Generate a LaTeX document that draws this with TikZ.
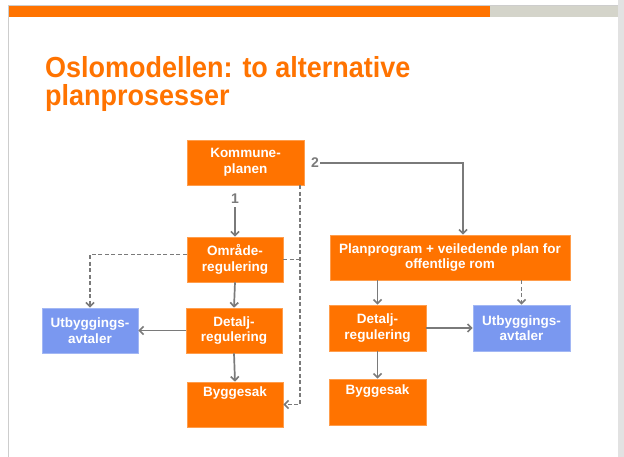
\documentclass[tikz,border=0pt]{standalone}
\usepackage{fontspec}
\setmainfont{Liberation Sans}
\newfontfamily\titlefont[FakeStretch=0.93]{Liberation Sans}
\usetikzlibrary{arrows.meta}
\definecolor{oslo}{RGB}{255,115,0}
\definecolor{avtale}{RGB}{122,152,240}
\definecolor{link}{RGB}{122,122,122}
\definecolor{barGray}{RGB}{212,212,202}
\definecolor{frameGray}{RGB}{205,205,205}
\definecolor{sideGray}{RGB}{226,226,226}

\begin{document}
\begin{tikzpicture}[x=1pt,y=-1pt,
  box/.style={fill=oslo, draw=oslo!70!white, line width=0.6pt, text=white,
    font=\bfseries\fontsize{13.5}{15.5}\selectfont, align=center, inner sep=0pt},
  bluebox/.style={box, fill=avtale, draw=avtale!70!white},
  topbox/.style={text depth=26pt, text height=10pt},
  flow/.style={draw=link, line width=1.7pt, -{Straight Barb[length=4pt,width=8pt]}},
  dflow/.style={flow, dash pattern=on 4pt off 2.5pt},
  dline/.style={draw=link, line width=1.7pt, dash pattern=on 4pt off 2.5pt},
  num/.style={text=link, font=\bfseries\fontsize{14}{16}\selectfont, inner sep=1pt}]

% page and slide frame
\useasboundingbox (0,0) rectangle (624,457);
\fill[white] (0,0) rectangle (624,457);
\fill[sideGray] (618,0) rectangle (624,457);
\draw[frameGray, line width=1pt] (8,457) -- (8,5.5) -- (618,5.5);
\fill[oslo] (8.5,6.5) rectangle (490,17.5);
\fill[barGray] (490,6.5) rectangle (618,17.5);

% title (base anchor sits on the last line)
\node[anchor=base west, text=oslo, font=\titlefont\bfseries\fontsize{29}{28.5}\selectfont,
  align=left, inner sep=0pt] (title) at (45,106)
  {Oslomodellen: to alternative\\planprosesser};

% left branch
\node[box, minimum width=117pt, minimum height=45pt] (kp) at (245.5,162.5) {Kommune-\\planen};
\node[box, minimum width=96pt, minimum height=45pt] (or) at (235,259.5) {Område-\\regulering};
\node[box, minimum width=96pt, minimum height=45pt] (dr1) at (234,330.5) {Detalj-\\regulering};
\node[box, topbox, minimum width=96pt, minimum height=45pt] (bs1) at (235,404.5) {Byggesak};
\node[bluebox, minimum width=96pt, minimum height=45pt] (ua1) at (90,330.5) {Utbyggings-\\avtaler};

% right branch
\node[box, minimum width=240pt, minimum height=45pt] (pp) at (450,257.5) {Planprogram + veiledende plan for\\offentlige rom};
\node[box, minimum width=97pt, minimum height=46pt] (dr2) at (377.5,328) {Detalj-\\regulering};
\node[bluebox, minimum width=97pt, minimum height=46pt] (ua2) at (521.5,328) {Utbyggings-\\avtaler};
\node[box, topbox, minimum width=97pt, minimum height=46pt] (bs2) at (377.5,402) {Byggesak};

% path labels
\node[num] (n1) at (235,199) {1};
\node[num] (n2) at (315,163) {2};

% the dashed trunk runs down the right side of the municipal plan
\coordinate (trunk) at ([xshift=-4.5pt]kp.south east);

% connectors, alternative 1
\draw[flow] ([yshift=-2pt]n1.south) -- (or.north);
\draw[flow] (or.south) -- (dr1.north);
\draw[flow] (dr1.west) -- (ua1.east);
\draw[flow] (dr1.south) -- (bs1.north);
\draw[dflow] (trunk) |- (bs1.east);
\draw[dline] (or.east) -- (or.east -| trunk);
\draw[dflow] ([yshift=5pt]or.west) -| (ua1.north);

% connectors, alternative 2
\draw[flow] (n2.east) -| ([xshift=13pt]pp.north);
\draw[flow] (pp.south -| dr2.north) -- (dr2.north);
\draw[dflow] (pp.south -| ua2.north) -- (ua2.north);
\draw[flow] (dr2.east) -- (ua2.west);
\draw[flow] (dr2.south) -- (bs2.north);
\end{tikzpicture}
\end{document}
